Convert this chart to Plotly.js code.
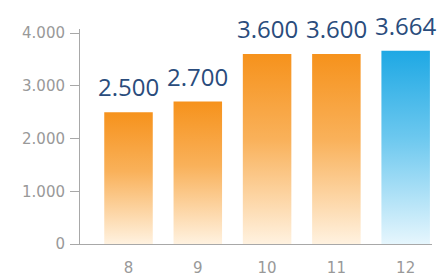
<!DOCTYPE html>
<html>
<head>
<meta charset="utf-8">
<script src="https://cdn.plot.ly/plotly-3.0.1.min.js"></script>
<style>
html,body{margin:0;padding:0;background:#fff;}
#chart{width:441px;height:276px;}
</style>
</head>
<body>
<div id="chart"></div>
<script>
var categories = ['8', '9', '10', '11', '12'];
var values = [2500, 2700, 3600, 3600, 3664];
var valueLabels = ['2.500', '2.700', '3.600', '3.600', '3.664'];
var tickValues = [0, 1000, 2000, 3000, 4000];
var tickLabels = ['0', '1.000', '2.000', '3.000', '4.000'];
var barGradients = ['orange', 'orange', 'orange', 'orange', 'blue'];

var gradientStops = {
  orange: [[0, '#F6921C'], [0.45, '#F9B15A'], [1, '#FFF2E0']],
  blue: [[0, '#1EA8E4'], [0.45, '#6CC8EF'], [1, '#E6F6FD']]
};

var trace = {
  type: 'bar',
  x: categories,
  y: values,
  marker: {color: barGradients.map(function(g){ return gradientStops[g][0][1]; }), line: {width: 0}},
  hoverinfo: 'none'
};

var annotations = categories.map(function(c, i){
  return {
    x: i, y: values[i], xref: 'x', yref: 'y',
    text: valueLabels[i], showarrow: false,
    yanchor: 'bottom', yshift: 7,
    font: {family: 'Open Sans, Noto Sans, sans-serif', size: 24, color: '#2A4C7C'}
  };
});

var layout = {
  width: 441, height: 276,
  margin: {l: 80, r: 9, t: 29, b: 32},
  paper_bgcolor: '#ffffff', plot_bgcolor: '#ffffff',
  showlegend: false,
  bargap: 0.3,
  xaxis: {
    type: 'category',
    range: [-0.7, 4.38],
    showline: true, linecolor: '#A8A8A8', linewidth: 1,
    ticks: '', showgrid: false, zeroline: false,
    tickfont: {family: 'DejaVu Sans, sans-serif', size: 15, color: '#999999'},
    ticklabelstandoff: 10
  },
  yaxis: {
    range: [0, 4076],
    tickmode: 'array', tickvals: tickValues, ticktext: tickLabels,
    showline: true, linecolor: '#A8A8A8', linewidth: 1,
    ticks: 'outside', ticklen: 9, tickcolor: '#A8A8A8',
    ticklabelstandoff: 2,
    showgrid: false, zeroline: false,
    tickfont: {family: 'DejaVu Sans, sans-serif', size: 15, color: '#999999'}
  },
  annotations: annotations
};

Plotly.newPlot('chart', [trace], layout, {displayModeBar: false, staticPlot: true}).then(function(gd){
  var svg = gd.querySelector('svg.main-svg');
  var ns = 'http://www.w3.org/2000/svg';
  var defs = svg.querySelector('defs') || svg.insertBefore(document.createElementNS(ns, 'defs'), svg.firstChild);
  Object.keys(gradientStops).forEach(function(k){
    var lg = document.createElementNS(ns, 'linearGradient');
    lg.setAttribute('id', 'grad-' + k);
    lg.setAttribute('x1', '0'); lg.setAttribute('y1', '0');
    lg.setAttribute('x2', '0'); lg.setAttribute('y2', '1');
    gradientStops[k].forEach(function(s){
      var st = document.createElementNS(ns, 'stop');
      st.setAttribute('offset', s[0]);
      st.setAttribute('stop-color', s[1]);
      lg.appendChild(st);
    });
    defs.appendChild(lg);
  });
  var paths = gd.querySelectorAll('.bars .point path');
  paths.forEach(function(p, i){
    p.style.fill = 'url(#grad-' + barGradients[i] + ')';
  });
});
</script>
</body>
</html>
